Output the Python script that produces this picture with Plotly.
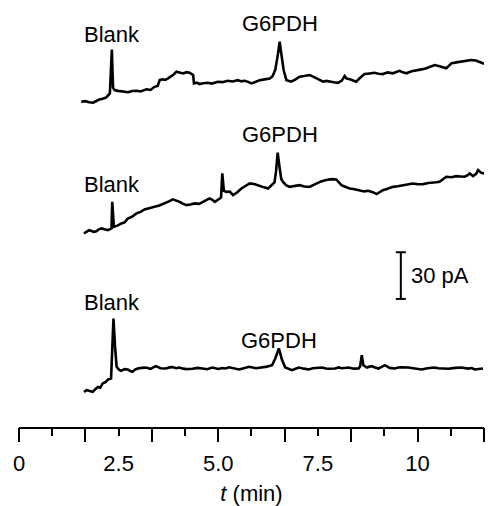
import plotly.graph_objects as go

# Current traces (pA, relative to each trace's starting level) vs time (min)
t_top = [1.56, 1.66, 1.76, 1.86, 1.94, 2.02, 2.10, 2.19, 2.28, 2.33, 2.36, 2.40,
         2.48, 2.56, 2.65, 2.74, 2.84, 2.95, 3.05, 3.12, 3.20, 3.30, 3.40, 3.48,
         3.53, 3.60, 3.67, 3.74, 3.82, 3.88, 3.95, 4.03, 4.12, 4.20, 4.28, 4.37,
         4.39, 4.46, 4.53, 4.62, 4.74, 4.84, 4.99, 5.10, 5.24, 5.36, 5.49, 5.58,
         5.66, 5.75, 5.83, 5.93, 6.04, 6.16, 6.29, 6.36, 6.43, 6.50, 6.54, 6.58,
         6.64, 6.71, 6.83, 6.93, 7.04, 7.16, 7.29, 7.38, 7.46, 7.55, 7.63, 7.71,
         7.79, 7.90, 8.00, 8.10, 8.17, 8.22, 8.30, 8.38, 8.46, 8.56, 8.67, 8.80,
         8.92, 9.02, 9.13, 9.25, 9.38, 9.47, 9.55, 9.63, 9.72, 9.85, 9.97, 10.10,
         10.22, 10.33, 10.43, 10.53, 10.64, 10.72, 10.79, 10.85, 10.97, 11.10,
         11.22, 11.35, 11.46, 11.56, 11.67]
i_top = [0.0, 0.4, -0.3, -0.6, 0.5, 1.5, 1.9, 2.8, 5.4, 33.6, 9.0, 7.5,
         7.0, 6.8, 6.4, 6.1, 6.9, 7.1, 6.6, 7.4, 8.0, 7.6, 9.6, 10.2,
         13.9, 14.4, 14.0, 15.0, 16.4, 17.5, 19.3, 18.6, 18.2, 19.0, 18.6, 17.2,
         11.8, 12.3, 11.4, 11.9, 12.2, 11.7, 12.9, 12.6, 13.5, 13.0, 13.9, 13.1,
         13.5, 12.8, 11.8, 12.7, 13.9, 14.4, 15.0, 16.3, 20.5, 31.1, 38.6, 31.1,
         20.4, 13.9, 12.9, 14.2, 16.1, 16.5, 17.2, 16.2, 15.0, 13.7, 12.9, 13.4,
         12.9, 12.5, 12.2, 13.6, 16.5, 14.9, 14.4, 13.6, 12.9, 15.4, 17.8, 18.2,
         18.6, 18.0, 17.8, 18.9, 18.3, 19.1, 19.9, 18.9, 18.3, 19.6, 20.4, 20.8,
         21.5, 22.4, 23.6, 23.0, 22.1, 21.5, 23.2, 24.7, 25.3, 25.7,
         26.4, 26.8, 26.5, 25.7, 24.4]

t_mid = [1.63, 1.69, 1.76, 1.82, 1.88, 1.94, 2.00, 2.07, 2.15, 2.23, 2.32, 2.34,
         2.38, 2.47, 2.57, 2.65, 2.73, 2.84, 2.95, 3.05, 3.15, 3.27, 3.40, 3.52,
         3.66, 3.76, 3.86, 3.95, 4.03, 4.11, 4.20, 4.30, 4.41, 4.52, 4.62, 4.70,
         4.78, 4.85, 4.91, 5.00, 5.07, 5.10, 5.14, 5.20, 5.29, 5.37, 5.47, 5.58,
         5.68, 5.79, 5.92, 6.04, 6.15, 6.25, 6.34, 6.41, 6.45, 6.49, 6.53, 6.58,
         6.62, 6.70, 6.79, 6.92, 7.04, 7.16, 7.29, 7.38, 7.46, 7.58, 7.71, 7.84,
         7.96, 8.02, 8.09, 8.20, 8.30, 8.42, 8.55, 8.66, 8.76, 8.88, 8.97, 9.05,
         9.13, 9.25, 9.38, 9.50, 9.63, 9.75, 9.88, 10.01, 10.14, 10.27, 10.39,
         10.47, 10.55, 10.64, 10.72, 10.85, 10.97, 11.08, 11.18, 11.25, 11.31,
         11.39, 11.47, 11.52, 11.60, 11.67]
i_mid = [0.0, 0.9, 2.1, 1.6, 1.0, 1.4, 2.6, 3.2, 2.4, 2.1, 3.2, 20.3,
         4.3, 5.0, 6.4, 7.1, 9.6, 10.8, 12.9, 13.8, 15.4, 16.0, 17.1, 18.0,
         19.3, 20.6, 21.9, 21.2, 20.3, 19.1, 18.2, 18.6, 19.3, 19.0, 20.3, 21.1,
         22.5, 21.6, 20.3, 21.8, 23.1, 38.6, 27.5, 26.7, 26.9, 24.6, 26.3, 28.9,
         30.4, 32.1, 31.6, 30.4, 29.6, 28.9, 30.8, 32.8, 40.0, 51.9, 43.9, 35.0,
         33.2, 31.0, 29.9, 30.6, 31.0, 30.2, 29.9, 31.0, 32.1, 33.4, 34.3, 34.9,
         34.7, 33.2, 31.0, 29.8, 28.9, 28.4, 27.8, 27.0, 27.4, 26.5, 25.3, 26.4,
         27.8, 28.7, 29.9, 30.3, 31.0, 31.7, 32.1, 31.6, 31.7, 32.4, 32.5,
         32.9, 33.2, 34.6, 36.4, 36.1, 36.8, 36.6, 36.4, 37.3, 38.6,
         36.8, 38.3, 40.7, 38.9, 38.6]

t_bot = [1.63, 1.70, 1.77, 1.85, 1.92, 1.98, 2.04, 2.10, 2.17, 2.23, 2.31, 2.35,
         2.37, 2.41, 2.45, 2.51, 2.56, 2.65, 2.73, 2.79, 2.85, 2.91, 2.98, 3.08,
         3.18, 3.30, 3.43, 3.55, 3.68, 3.78, 3.85, 3.94, 4.02, 4.12, 4.20, 4.35,
         4.48, 4.60, 4.72, 4.85, 5.00, 5.10, 5.18, 5.27, 5.35, 5.52, 5.64, 5.77,
         5.95, 6.10, 6.22, 6.35, 6.43, 6.52, 6.60, 6.68, 6.76, 6.85, 6.94, 7.02,
         7.15, 7.27, 7.37, 7.45, 7.60, 7.70, 7.78, 7.93, 8.02, 8.10, 8.27, 8.40,
         8.52, 8.56, 8.60, 8.64, 8.73, 8.80, 8.85, 8.93, 9.02, 9.10, 9.18, 9.30,
         9.43, 9.52, 9.60, 9.77, 9.95, 10.10, 10.25, 10.43, 10.52, 10.60, 10.77,
         10.95, 11.10, 11.27, 11.36, 11.43, 11.54, 11.64]
i_bot = [0.0, 1.1, 0.6, 0.0, 1.8, 3.2, 2.7, 5.4, 6.2, 7.9, 8.6, 28.9,
         47.1, 28.9, 16.1, 14.2, 13.5, 14.6, 14.4, 13.4, 12.9, 14.3, 15.0, 15.4,
         15.6, 14.8, 16.5, 15.2, 15.0, 15.7, 15.9, 15.2, 15.6, 14.9, 14.6, 14.8,
         15.4, 15.0, 14.5, 15.6, 14.7, 15.3, 15.0, 15.8, 15.5, 14.4, 15.2, 16.1,
         15.2, 15.6, 16.2, 17.1, 21.4, 27.9, 20.4, 15.6, 14.6, 13.9, 14.8, 15.6,
         14.9, 14.4, 15.2, 15.3, 15.6, 15.0, 14.8, 15.0, 15.7, 15.2, 15.6, 14.9,
         15.0, 16.5, 23.6, 17.1, 15.6, 16.3, 16.5, 15.7, 15.0, 16.0, 17.1, 15.4,
         15.0, 15.6, 15.8, 15.6, 14.7, 14.4, 15.2, 15.6, 15.1, 15.0, 14.8,
         15.4, 15.6, 14.9, 15.3, 14.4, 14.9, 15.0]

# Vertical offsets that stack the three recordings (pA)
OFFSET_TOP, OFFSET_MID, OFFSET_BOT = 209.0, 124.4, 22.6

# Peak labels: (text, time in min, height in pA)
peak_labels = [
    ("Blank", 2.33, 252.4), ("G6PDH", 6.55, 259.0),
    ("Blank", 2.33, 155.8), ("G6PDH", 6.55, 187.8),
    ("Blank", 2.33, 80.0), ("G6PDH", 6.53, 55.6),
]

# Scale bar
SCALE_PA = 30
SCALE_T = 9.58
SCALE_Y0 = 82.3
SCALE_CAP = 0.125

# Axis ticks
label_vals = [0, 2.5, 5, 7.5, 10]
label_text = ["0", "2.5", "5.0", "7.5", "10"]
long_ticks = [k * 5 / 3 for k in range(8)]
short_ticks = [k * 5 / 3 + 5 / 6 for k in range(7)]
T_MAX = 11.667
Y_MAX = 274.4

FONT = "Liberation Sans, Arial, Helvetica, sans-serif"
trace_style = dict(color="black", width=2.6)
bar_style = dict(color="black", width=2)

fig = go.Figure()
for t, cur, off in [(t_top, i_top, OFFSET_TOP),
                    (t_mid, i_mid, OFFSET_MID),
                    (t_bot, i_bot, OFFSET_BOT)]:
    fig.add_trace(go.Scatter(x=t, y=[c + off for c in cur], mode="lines",
                             line=trace_style, hoverinfo="skip", showlegend=False))

# 30 pA scale bar with end caps
y_lo, y_hi = SCALE_Y0, SCALE_Y0 + SCALE_PA
fig.add_trace(go.Scatter(
    x=[SCALE_T, SCALE_T, None, SCALE_T - SCALE_CAP, SCALE_T + SCALE_CAP, None,
       SCALE_T - SCALE_CAP, SCALE_T + SCALE_CAP],
    y=[y_lo, y_hi, None, y_lo, y_lo, None, y_hi, y_hi],
    mode="lines", line=bar_style, xaxis="x2", hoverinfo="skip", showlegend=False))

annotations = [dict(x=tx, y=ty, text=txt, showarrow=False, xref="x", yref="y",
                    xanchor="center", yanchor="middle",
                    font=dict(family=FONT, size=22, color="black"))
               for txt, tx, ty in peak_labels]
annotations.append(dict(x=SCALE_T + 0.2, y=SCALE_Y0 + SCALE_PA / 2, text=f"{SCALE_PA} pA",
                        showarrow=False, xref="x", yref="y", xanchor="left",
                        yanchor="middle", font=dict(family=FONT, size=22, color="black")))

fig.update_layout(
    width=488, height=506,
    margin=dict(l=19, r=4, t=0, b=79),
    paper_bgcolor="white", plot_bgcolor="white",
    font=dict(family=FONT, size=22, color="black"),
    annotations=annotations,
    xaxis=dict(range=[0, T_MAX], tickmode="array", tickvals=label_vals,
               ticktext=label_text, ticks="", showline=True, linecolor="black",
               linewidth=2, showgrid=False, zeroline=False, ticklabelstandoff=16,
               tickfont=dict(family=FONT, size=22, color="black"),
               title=dict(text="<i>t</i> (min)", standoff=11,
                          font=dict(family=FONT, size=22, color="black"))),
    xaxis2=dict(range=[0, T_MAX], overlaying="x", anchor="y", side="bottom",
                tickmode="array", tickvals=long_ticks, ticks="outside", ticklen=14,
                tickwidth=2, tickcolor="black", showticklabels=False,
                showline=False, showgrid=False, zeroline=False,
                minor=dict(tickmode="array", tickvals=short_ticks, ticks="outside",
                           ticklen=8, tickwidth=2, tickcolor="black", showgrid=False)),
    yaxis=dict(range=[0, Y_MAX], visible=False, showgrid=False, zeroline=False),
)

fig.write_html("out.html")
